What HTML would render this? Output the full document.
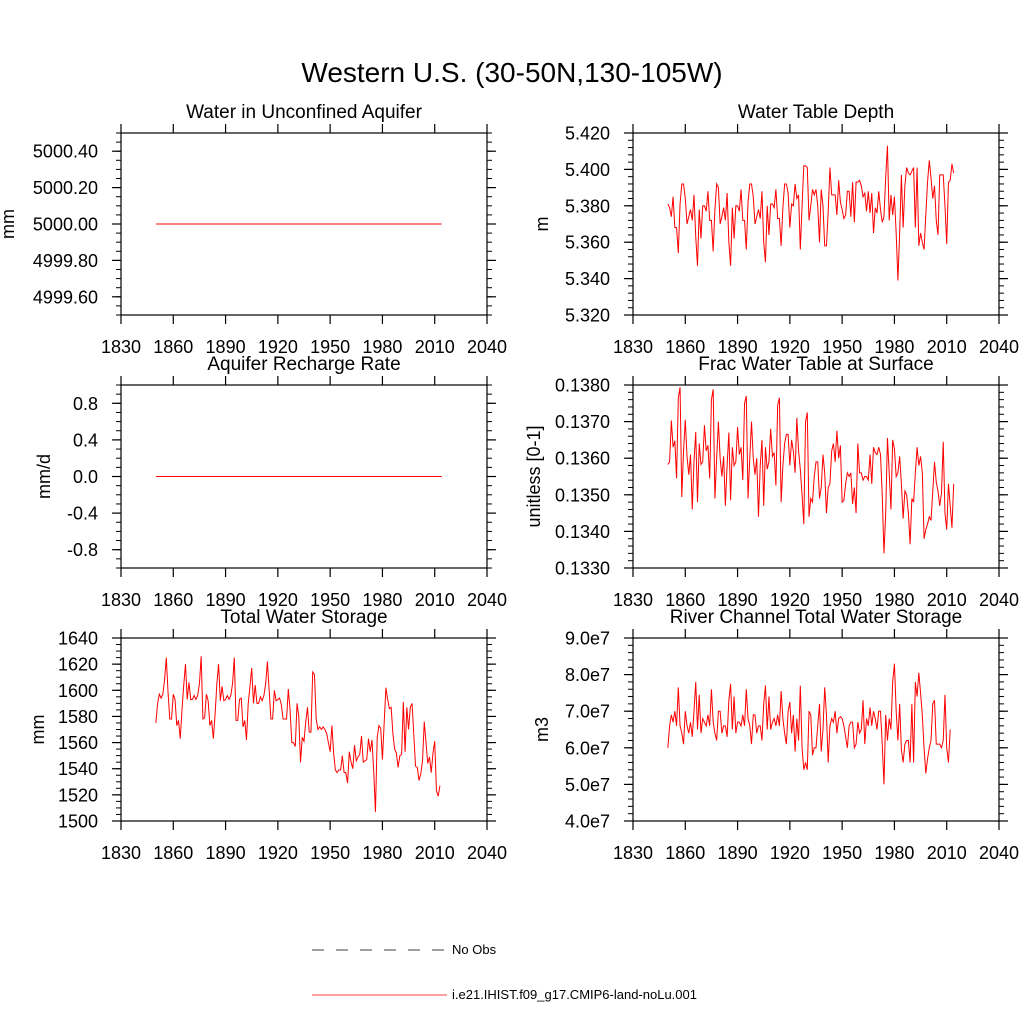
<!DOCTYPE html>
<html><head><meta charset="utf-8"><style>
body{margin:0;background:#fff;}
svg text{font-family:"Liberation Sans",Arial,sans-serif;fill:#000;}
</style></head><body>
<svg id="chart" width="1024" height="1024" viewBox="0 0 1024 1024" xmlns="http://www.w3.org/2000/svg">
<rect width="1024" height="1024" fill="#fff"/>
<text x="512" y="82" font-size="28" text-anchor="middle">Western U.S. (30-50N,130-105W)</text>
<g>
<line x1="312" y1="950" x2="447" y2="950" stroke="#000" stroke-width="0.8" stroke-dasharray="12,12"/>
<text x="452" y="954" font-size="13">No Obs</text>
<line x1="312" y1="995" x2="447" y2="995" stroke="#f00" stroke-width="0.8"/>
<text x="452" y="999" font-size="13">i.e21.IHIST.f09_g17.CMIP6-land-noLu.001</text>
</g>
</svg>
<script>
const startYear = 1850;
const xTicks = [1830,1860,1890,1920,1950,1980,2010,2040];
const aquiferVals = Array(165).fill(5000.0);
const rechargeVals = Array(165).fill(0.0);
const wtdVals = [5.381,5.379,5.374,5.385,5.368,5.368,5.354,5.381,5.392,5.392,5.384,5.370,5.374,5.378,5.372,5.386,5.363,5.347,5.378,5.362,5.380,5.380,5.377,5.388,5.372,5.372,5.355,5.378,5.392,5.390,5.370,5.374,5.379,5.372,5.387,5.360,5.347,5.379,5.362,5.380,5.380,5.377,5.389,5.372,5.372,5.356,5.382,5.392,5.392,5.385,5.370,5.374,5.378,5.373,5.388,5.360,5.349,5.380,5.364,5.381,5.381,5.379,5.389,5.373,5.373,5.358,5.379,5.392,5.392,5.387,5.368,5.381,5.380,5.392,5.384,5.386,5.356,5.380,5.402,5.402,5.401,5.372,5.380,5.389,5.386,5.389,5.380,5.360,5.389,5.380,5.358,5.358,5.377,5.401,5.386,5.386,5.386,5.375,5.394,5.382,5.378,5.373,5.375,5.388,5.388,5.374,5.393,5.371,5.393,5.393,5.394,5.391,5.385,5.387,5.377,5.388,5.376,5.387,5.365,5.379,5.376,5.388,5.378,5.371,5.374,5.396,5.413,5.372,5.386,5.375,5.385,5.365,5.339,5.365,5.397,5.368,5.391,5.401,5.398,5.397,5.399,5.401,5.368,5.401,5.358,5.365,5.360,5.356,5.375,5.393,5.405,5.395,5.384,5.391,5.372,5.364,5.397,5.397,5.397,5.380,5.359,5.393,5.394,5.403,5.398];
const fracVals = [.13583,.13590,.13703,.13630,.13648,.13545,.13765,.13794,.13494,.13620,.13705,.13605,.13555,.13610,.13460,.13590,.13672,.13480,.13640,.13583,.13590,.13690,.13620,.13635,.13545,.13760,.13788,.13490,.13600,.13700,.13600,.13550,.13605,.13470,.13580,.13670,.13485,.13630,.13580,.13590,.13685,.13610,.13630,.13540,.13750,.13770,.13490,.13600,.13700,.13600,.13555,.13600,.13440,.13580,.13650,.13470,.13630,.13570,.13590,.13680,.13605,.13615,.13525,.13745,.13765,.13480,.13580,.13640,.13665,.13665,.13580,.13650,.13620,.13560,.13710,.13620,.13570,.13500,.13420,.13700,.13725,.13440,.13490,.13480,.13550,.13590,.13590,.13490,.13520,.13610,.13560,.13450,.13520,.13530,.13620,.13640,.13590,.13675,.13600,.13635,.13480,.13485,.13530,.13560,.13550,.13560,.13475,.13520,.13450,.13640,.13560,.13560,.13540,.13550,.13550,.13540,.13610,.13530,.13630,.13615,.13610,.13630,.13610,.13500,.13340,.13450,.13655,.13560,.13460,.13650,.13625,.13550,.13560,.13605,.13530,.13435,.13510,.13500,.13450,.13365,.13490,.13480,.13560,.13630,.13580,.13605,.13560,.13380,.13405,.13420,.13440,.13430,.13510,.13590,.13535,.13510,.13470,.13505,.13645,.13450,.13405,.13530,.13470,.13410,.13530];
const twsVals = [1575,1590,1597,1594,1597,1608,1625,1598,1578,1578,1597,1593,1573,1577,1563,1585,1604,1620,1593,1606,1593,1593,1596,1593,1596,1605,1626,1578,1579,1597,1592,1573,1577,1563,1582,1605,1620,1592,1603,1592,1593,1596,1593,1596,1605,1625,1577,1577,1593,1594,1572,1577,1562,1590,1603,1617,1590,1604,1590,1590,1595,1592,1596,1605,1622,1600,1578,1578,1600,1592,1593,1594,1589,1578,1578,1578,1601,1585,1560,1560,1557,1590,1580,1545,1564,1561,1576,1587,1568,1568,1614,1612,1578,1570,1572,1570,1572,1570,1567,1560,1553,1573,1552,1539,1537,1539,1539,1550,1537,1537,1529,1553,1545,1540,1558,1546,1549,1551,1565,1545,1546,1547,1563,1553,1562,1538,1507,1564,1573,1571,1547,1575,1602,1593,1586,1587,1567,1555,1552,1541,1550,1551,1591,1553,1587,1570,1587,1590,1566,1542,1541,1531,1536,1546,1576,1560,1544,1549,1537,1552,1561,1523,1519,1527];
const riverVals = [6.0,6.6,6.9,6.7,7.0,6.6,7.65,6.6,6.4,6.1,7.0,6.6,6.4,6.7,6.3,7.0,7.8,6.5,7.45,6.4,6.8,6.7,6.6,6.9,6.6,7.6,6.7,6.4,6.2,7.0,7.0,6.4,6.6,6.6,6.3,7.3,7.75,6.5,7.4,6.4,6.7,6.7,6.6,6.9,6.6,7.6,6.8,6.6,6.1,6.9,6.9,6.4,6.6,6.6,6.2,7.2,7.7,6.5,7.4,6.5,6.7,6.8,6.6,6.9,6.6,7.55,6.8,6.4,6.1,7.0,7.25,6.4,6.9,5.9,6.8,6.2,7.7,6.0,5.4,5.6,5.4,7.0,6.9,5.8,6.0,6.0,6.6,7.2,5.9,6.5,7.65,6.9,5.6,6.6,6.8,6.7,7.0,6.4,6.8,6.85,6.8,6.6,6.3,6.0,6.6,6.7,6.7,6.0,6.1,6.7,6.4,6.5,7.3,6.1,6.8,6.6,7.1,6.6,7.0,6.8,6.5,7.0,7.0,6.1,5.0,6.9,6.2,6.8,6.5,7.8,8.3,7.0,6.2,7.2,5.95,5.6,6.1,6.2,6.2,5.6,7.2,5.6,7.8,7.4,8.05,7.5,6.9,6.0,5.3,5.7,6.0,6.2,7.2,7.3,6.1,6.1,6.1,6.0,6.2,7.45,6.0,5.6,6.5];
const aquiferTicks = [4999.6,4999.8,5000.0,5000.2,5000.4];
const rechargeTicks = [-0.8,-0.4,0.0,0.4,0.8];
const wtdTicks = [5.32,5.34,5.36,5.38,5.40,5.42];
const fracTicks = [0.1330,0.1340,0.1350,0.1360,0.1370,0.1380];
const twsTicks = [1500,1520,1540,1560,1580,1600,1620,1640];
const riverTicks = [4,5,6,7,8,9];

const NS="http://www.w3.org/2000/svg";
const svg=document.getElementById('chart');
function mk(tag,attrs,parent){const e=document.createElementNS(NS,tag);for(const k in attrs)e.setAttribute(k,attrs[k]);(parent||svg).appendChild(e);return e;}

const panels=[
 {key:'aquifer',title:'Water in Unconfined Aquifer',ytitle:'mm',x0:121,x1:487,y0:133,y1:315,ymin:4999.5,ymax:5000.5,ticks:aquiferTicks,minor:0.05,fmt:v=>v.toFixed(2),vals:aquiferVals,ytx:14},
 {key:'water-table-depth',title:'Water Table Depth',ytitle:'m',x0:633,x1:999,y0:133,y1:315,ymin:5.32,ymax:5.42,ticks:wtdTicks,minor:0.004,fmt:v=>v.toFixed(3),vals:wtdVals,ytx:548},
 {key:'recharge',title:'Aquifer Recharge Rate',ytitle:'mm/d',x0:121,x1:487,y0:385,y1:568,ymin:-1,ymax:1,ticks:rechargeTicks,minor:0.1,fmt:v=>v.toFixed(1),vals:rechargeVals,ytx:50},
 {key:'frac-water-table',title:'Frac Water Table at Surface',ytitle:'unitless [0-1]',x0:633,x1:999,y0:385,y1:568,ymin:0.133,ymax:0.138,ticks:fracTicks,minor:0.0002,fmt:v=>v.toFixed(4),vals:fracVals,ytx:540},
 {key:'total-water-storage',title:'Total Water Storage',ytitle:'mm',x0:121,x1:487,y0:638,y1:821,ymin:1500,ymax:1640,ticks:twsTicks,minor:5,fmt:v=>String(v),vals:twsVals,ytx:44},
 {key:'river-channel-storage',title:'River Channel Total Water Storage',ytitle:'m3',x0:633,x1:999,y0:638,y1:821,ymin:4,ymax:9,ticks:riverTicks,minor:0.2,fmt:v=>v.toFixed(1)+'e7',vals:riverVals,ytx:548}
];

panels.forEach(p=>{
 const g=mk('g',{});
 
 
 const X=yr=>p.x0+(yr-1830)/210*(p.x1-p.x0);
 const Y=v=>p.y1-(v-p.ymin)/(p.ymax-p.ymin)*(p.y1-p.y0);
 const t=mk('text',{x:(p.x0+p.x1)/2,y:p.y0-15,'font-size':19,'text-anchor':'middle'},g);
 t.textContent=p.title;
 
 
 const yc=(p.y0+p.y1)/2;
 const yt=mk('text',{x:p.ytx,y:yc,'font-size':18,'text-anchor':'middle',transform:`rotate(-90 ${p.ytx} ${yc})`},g);
 yt.textContent=p.ytitle;
 
 
 const n=Math.round((p.ymax-p.ymin)/p.minor);
 for(let i=0;i<=n;i++){const v=p.ymin+i*p.minor;const y=Y(v);
  const l1=mk('line',{x1:p.x0-5,x2:p.x0,y1:y,y2:y,stroke:'#000','stroke-width':1},g);
  
  
  const l2=mk('line',{x1:p.x1,x2:p.x1+5,y1:y,y2:y,stroke:'#000','stroke-width':1},g);
  
  }
 p.ticks.forEach(v=>{const y=Y(v);
  const l1=mk('line',{x1:p.x0-9,x2:p.x0,y1:y,y2:y,stroke:'#000','stroke-width':1.2},g);
  
  
  const l2=mk('line',{x1:p.x1,x2:p.x1+9,y1:y,y2:y,stroke:'#000','stroke-width':1.2},g);
  
  
  const tx=mk('text',{x:p.x0-23,y:y+6.5,'font-size':18,'text-anchor':'end'},g);
  tx.textContent=p.fmt(v);
  
  });
 xTicks.forEach(yr=>{const x=X(yr);
  const l1=mk('line',{x1:x,x2:x,y1:p.y1,y2:p.y1+9,stroke:'#000','stroke-width':1.2},g);
  
  
  const l2=mk('line',{x1:x,x2:x,y1:p.y0-9,y2:p.y0,stroke:'#000','stroke-width':1.2},g);
  
  
  const tx=mk('text',{x:x,y:p.y1+38,'font-size':18,'text-anchor':'middle'},g);
  tx.textContent=yr;
  
  });
 const fr=mk('rect',{x:p.x0,y:p.y0,width:p.x1-p.x0,height:p.y1-p.y0,fill:'none',stroke:'#000','stroke-width':1.2},g);
 
 
 const pts=p.vals.map((v,i)=>X(startYear+i).toFixed(2)+','+Y(v).toFixed(2)).join(' ');
 const pl=mk('polyline',{points:pts,fill:'none',stroke:'#f00','stroke-width':1},g);
 
 
});
</script>
</body></html>
